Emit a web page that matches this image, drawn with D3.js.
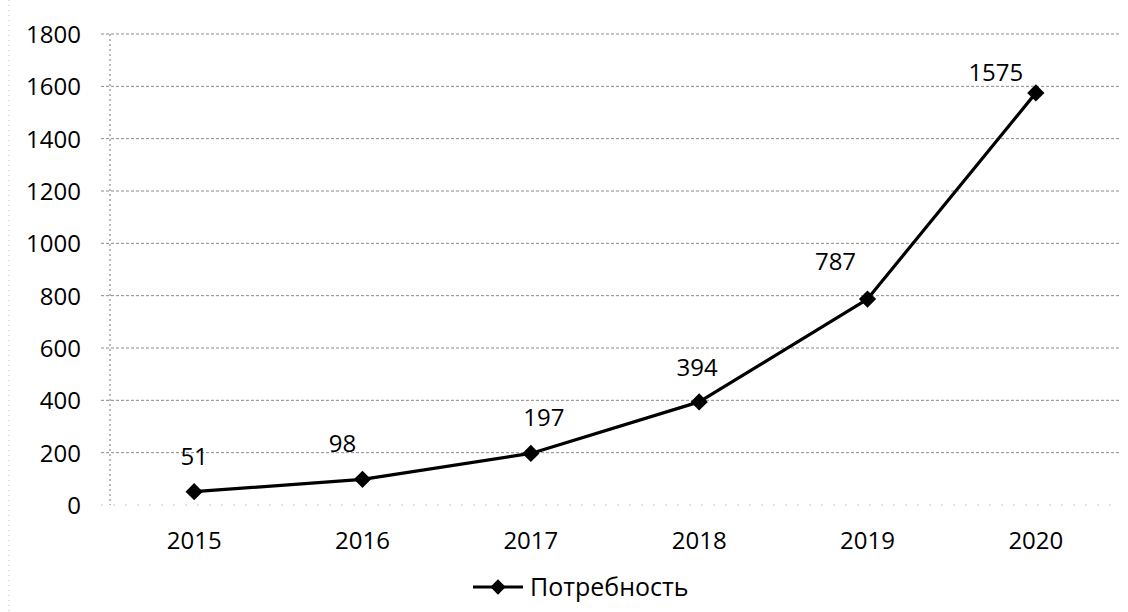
<!DOCTYPE html>
<html>
<head>
<meta charset="utf-8">
<script src="https://cdn.jsdelivr.net/npm/d3@7"></script>
<style>
  body { margin: 0; background: #fff; }
  text { font-family: "Open Sans", "Noto Sans", sans-serif; fill: #000; }
</style>
</head>
<body>
<div id="chart"></div>
<script>
// Data
const years = ["2015", "2016", "2017", "2018", "2019", "2020"];
const demand = [51, 98, 197, 394, 787, 1575];
const yTicks = [0, 200, 400, 600, 800, 1000, 1200, 1400, 1600, 1800];
const seriesName = "Потребность";

// Layout
const W = 1128, H = 612;
const margin = {top: 34, right: 8, bottom: 107, left: 110};
const width = W - margin.left - margin.right;
const height = H - margin.top - margin.bottom;

// label offsets (dx, dy) relative to the point, like the manual placement in the original
const labelDx = [0, -20, 13, -2, -32, -40];
const labelDy = [-27, -27, -27, -26, -29, -12];

const svg = d3.select("#chart")
    .append("svg")
    .attr("width", W)
    .attr("height", H);

// faint frame line at the left edge
svg.append("line")
    .attr("x1", 9).attr("x2", 9)
    .attr("y1", 0).attr("y2", H)
    .style("stroke", "#bbb")
    .style("stroke-width", 1)
    .style("stroke-dasharray", "1,4");

const g = svg.append("g")
    .attr("transform", `translate(${margin.left},${margin.top})`);

const x = d3.scaleBand()
    .domain(years)
    .range([0, width]);

const y = d3.scaleLinear()
    .domain([0, 1800])
    .range([height, 0]);

// gridlines
g.selectAll(".grid")
    .data(yTicks)
    .enter()
    .append("line")
    .attr("class", "grid")
    .attr("x1", -9)
    .attr("x2", width)
    .attr("y1", d => y(d))
    .attr("y2", d => y(d))
    .style("stroke", d => d === 0 ? "#c8c8c8" : "#8a8a8a")
    .style("stroke-width", 1)
    .style("stroke-dasharray", d => d === 0 ? "2,10" : "3,2");

// y axis line
g.append("line")
    .attr("x1", 0).attr("x2", 0)
    .attr("y1", 0).attr("y2", height)
    .style("stroke", "#777")
    .style("stroke-width", 1)
    .style("stroke-dasharray", "2,3");

// y tick labels
const yAxis = d3.axisLeft(y)
    .tickValues(yTicks)
    .tickFormat(d3.format("d"))
    .tickSize(0)
    .tickPadding(29);
g.append("g")
    .call(yAxis)
    .call(sel => sel.select(".domain").remove())
    .selectAll("text")
    .style("font-size", "24px")
    .attr("dy", "0.36em");

// x tick labels
const xAxis = d3.axisBottom(x).tickSize(0).tickPadding(27);
g.append("g")
    .attr("transform", `translate(0,${height})`)
    .call(xAxis)
    .call(sel => sel.select(".domain").remove())
    .selectAll("text")
    .style("font-size", "24px");

const cx = (d, i) => x(years[i]) + x.bandwidth() / 2;

// line
const line = d3.line()
    .x((d, i) => cx(d, i))
    .y(d => y(d));

g.append("path")
    .datum(demand)
    .attr("d", line)
    .style("fill", "none")
    .style("stroke", "#000")
    .style("stroke-width", 3.2)
    .style("stroke-linejoin", "round");

// diamond markers
const diamond = d3.symbol().type(d3.symbolDiamond2).size(190);
g.selectAll(".marker")
    .data(demand)
    .enter()
    .append("path")
    .attr("class", "marker")
    .attr("d", diamond)
    .attr("transform", (d, i) => `translate(${cx(d, i)},${y(d)})`)
    .style("fill", "#000");

// value labels
g.selectAll(".value-label")
    .data(demand)
    .enter()
    .append("text")
    .attr("class", "value-label")
    .attr("x", (d, i) => cx(d, i) + labelDx[i])
    .attr("y", (d, i) => y(d) + labelDy[i])
    .attr("text-anchor", "middle")
    .style("font-size", "24px")
    .text(d => d);

// legend
const legend = svg.append("g")
    .attr("transform", "translate(473,587)");

legend.append("line")
    .attr("x1", 0).attr("x2", 50)
    .attr("y1", 0).attr("y2", 0)
    .style("stroke", "#000")
    .style("stroke-width", 3);

legend.append("path")
    .attr("d", d3.symbol().type(d3.symbolDiamond2).size(150))
    .attr("transform", "translate(25,0)")
    .style("fill", "#000");

legend.append("text")
    .attr("x", 57)
    .attr("y", 9)
    .style("font-size", "25px")
    .text(seriesName);
</script>
</body>
</html>
